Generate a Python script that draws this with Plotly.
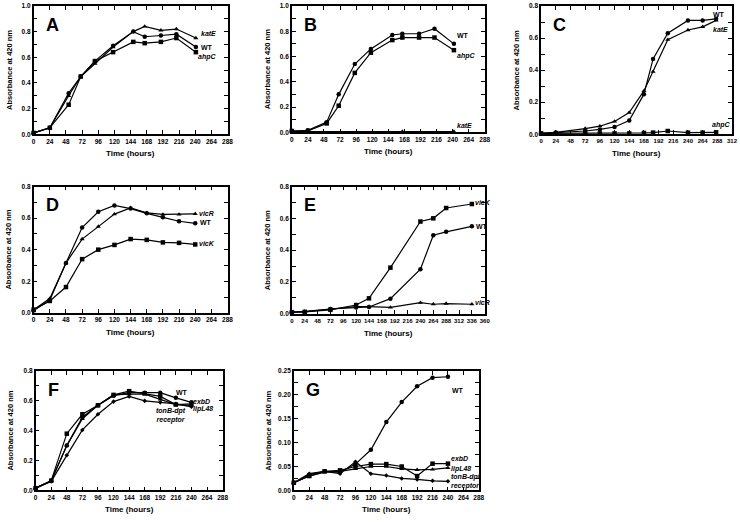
import plotly.graph_objects as go

W, H = 740, 522

# ---- data (hours, absorbance at 420 nm) ----
A_T = [0, 24, 52, 70, 91, 118, 148, 165, 189, 212, 241]
A_WT = [0.01, 0.05, 0.32, 0.45, 0.57, 0.69, 0.80, 0.76, 0.77, 0.78, 0.68]
A_KATE = [0.01, 0.05, 0.30, 0.45, 0.55, 0.68, 0.80, 0.84, 0.81, 0.82, 0.75]
A_AHPC = [0.01, 0.05, 0.23, 0.45, 0.57, 0.64, 0.72, 0.71, 0.72, 0.75, 0.64]

B_T = [0, 24, 52, 70, 94, 118, 150, 165, 190, 213, 242]
B_WT = [0.01, 0.015, 0.08, 0.30, 0.54, 0.66, 0.77, 0.78, 0.78, 0.82, 0.70]
B_AHPC = [0.01, 0.01, 0.07, 0.21, 0.47, 0.63, 0.73, 0.75, 0.75, 0.75, 0.65]
B_KATE_T = [0, 24, 165, 242]
B_KATE = [0.005, 0.005, 0.005, 0.005]

C_T = [0, 24, 72, 96, 120, 144, 168, 183, 207, 240, 264, 286]
C_WT = [0.005, 0.01, 0.02, 0.03, 0.045, 0.085, 0.25, 0.47, 0.63, 0.71, 0.71, 0.72]
C_KATE = [0.005, 0.012, 0.035, 0.05, 0.08, 0.135, 0.27, 0.39, 0.59, 0.65, 0.67, 0.71]
C_AHPC = [0.005, 0.005, 0.005, 0.005, 0.005, 0.005, 0.008, 0.01, 0.02, 0.01, 0.01, 0.012]

D_T = [0, 24, 48, 72, 96, 120, 144, 168, 192, 216, 240]
D_WT = [0.015, 0.08, 0.315, 0.54, 0.64, 0.68, 0.66, 0.63, 0.605, 0.58, 0.567]
D_VICR = [0.02, 0.09, 0.315, 0.467, 0.546, 0.625, 0.665, 0.633, 0.623, 0.623, 0.627]
D_VICK = [0.02, 0.075, 0.163, 0.34, 0.40, 0.43, 0.467, 0.462, 0.446, 0.443, 0.433]

E_T = [0, 24, 72, 120, 144, 184, 240, 264, 288, 336]
E_VICK = [0.01, 0.012, 0.025, 0.055, 0.097, 0.29, 0.58, 0.60, 0.665, 0.69]
E_WT = [0.01, 0.012, 0.03, 0.04, 0.043, 0.095, 0.28, 0.494, 0.515, 0.55]
E_VICR = [0.01, 0.015, 0.03, 0.045, 0.045, 0.04, 0.07, 0.06, 0.064, 0.06]

F_T = [0, 24, 48, 72, 96, 120, 144, 168, 192, 216, 240]
F_WT = [0.015, 0.065, 0.30, 0.49, 0.57, 0.635, 0.655, 0.655, 0.655, 0.62, 0.59]
F_EXBD = [0.015, 0.065, 0.38, 0.51, 0.57, 0.64, 0.665, 0.65, 0.63, 0.575, 0.58]
F_LIPL48 = [0.015, 0.065, 0.30, 0.48, 0.57, 0.64, 0.645, 0.645, 0.61, 0.575, 0.57]
F_TONB = [0.015, 0.06, 0.235, 0.405, 0.51, 0.595, 0.63, 0.60, 0.59, 0.58, 0.56]

G_T = [0, 24, 48, 72, 96, 120, 144, 168, 192, 216, 240]
G_WT = [0.016, 0.033, 0.04, 0.038, 0.055, 0.085, 0.143, 0.185, 0.218, 0.236, 0.238]
G_EXBD = [0.016, 0.03, 0.04, 0.042, 0.05, 0.055, 0.055, 0.05, 0.03, 0.056, 0.056]
G_LIPL48 = [0.016, 0.03, 0.038, 0.04, 0.045, 0.05, 0.05, 0.045, 0.043, 0.044, 0.047]
G_TONB = [0.016, 0.035, 0.04, 0.035, 0.06, 0.035, 0.031, 0.025, 0.023, 0.02, 0.019]

FONT = 'Arial, Liberation Sans, sans-serif'

# panel frames in pixels: left, right, top, bottom
PANELS = [
    dict(key='A', box=(32, 228, 2, 132), xmax=288, ymax=1.0, ydt=0.2, ymin=0.1, fmt='.1f'),
    dict(key='B', box=(293, 488, 2, 130), xmax=288, ymax=1.0, ydt=0.2, ymin=0.1, fmt='.1f'),
    dict(key='C', box=(545, 738, 2, 132), xmax=312, ymax=0.8, ydt=0.2, ymin=0.1, fmt='.1f'),
    dict(key='D', box=(32, 228, 185, 313), xmax=288, ymax=0.8, ydt=0.2, ymin=0.1, fmt='.1f'),
    dict(key='E', box=(293, 488, 185, 314), xmax=360, ymax=0.8, ydt=0.2, ymin=0.1, fmt='.1f'),
    dict(key='F', box=(34, 223, 372, 493), xmax=288, ymax=0.8, ydt=0.2, ymin=0.1, fmt='.1f'),
    dict(key='G', box=(295, 482, 372, 493), xmax=288, ymax=0.25, ydt=0.05, ymin=0.025, fmt='.2f'),
]

SERIES = {
    'A': [(A_T, A_WT, 'circle'), (A_T, A_KATE, 'triangle-up'), (A_T, A_AHPC, 'square')],
    'B': [(B_T, B_WT, 'circle'), (B_T, B_AHPC, 'square'), (B_KATE_T, B_KATE, 'triangle-up')],
    'C': [(C_T, C_WT, 'circle'), (C_T, C_KATE, 'triangle-up'), (C_T, C_AHPC, 'square')],
    'D': [(D_T, D_WT, 'circle'), (D_T, D_VICR, 'triangle-up'), (D_T, D_VICK, 'square')],
    'E': [(E_T, E_VICK, 'square'), (E_T, E_WT, 'circle'), (E_T, E_VICR, 'triangle-up')],
    'F': [(F_T, F_WT, 'circle'), (F_T, F_EXBD, 'square'), (F_T, F_LIPL48, 'triangle-up'),
          (F_T, F_TONB, 'diamond')],
    'G': [(G_T, G_WT, 'circle'), (G_T, G_EXBD, 'square'), (G_T, G_LIPL48, 'triangle-up'),
          (G_T, G_TONB, 'diamond')],
}

# curve labels: (x data, y data, text)
LABELS = {
    'A': [(245, 0.785, '<i>katE</i>'), (245, 0.68, 'WT'), (241, 0.60, '<i>ahpC</i>')],
    'B': [(244, 0.766, 'WT'), (244, 0.60, '<i>ahpC</i>'), (244, 0.055, '<i>katE</i>')],
    'C': [(278, 0.746, 'WT'), (277, 0.652, '<i>katE</i>'), (276, 0.057, '<i>ahpC</i>')],
    'D': [(243, 0.627, '<i>vicR</i>'), (244, 0.57, 'WT'), (243, 0.436, '<i>vicK</i>')],
    'E': [(339, 0.70, '<i>vicK</i>'), (340, 0.55, 'WT'), (339, 0.07, '<i>vicR</i>')],
    'F': [(213, 0.655, 'WT'), (239, 0.597, '<i>exbD</i>'), (239, 0.544, '<i>lipL48</i>'),
          (183, 0.50, '<i>tonB-dpt</i><br><i>receptor</i>')],
    'G': [(243, 0.209, 'WT'), (241, 0.066, '<i>exbD</i>'), (241, 0.044, '<i>lipL48</i>'),
          (241, 0.027, '<i>tonB-dpt</i>'), (241, 0.010, '<i>receptor</i>')],
}


def px_x(px):
    return px / W


def px_y(py):
    return 1 - py / H


fig = go.Figure()
annotations = []
layout = {}

for i, p in enumerate(PANELS):
    n = '' if i == 0 else str(i + 1)
    xa, ya = 'x' + n, 'y' + n
    l, r, t, b = p['box']
    tick_size = 6 if p['xmax'] > 300 else 6.5
    axis_common = dict(
        showline=True, linecolor='black', linewidth=1.5, mirror='ticks',
        ticks='inside', ticklen=4, tickwidth=1, tickcolor='black',
        showgrid=False, zeroline=False,
        tickfont=dict(family=FONT, size=6.5, color='black', weight='bold'),
    )
    layout['xaxis' + n] = dict(
        axis_common, domain=[px_x(l), px_x(r)], anchor=ya,
        range=[0, p['xmax']], tick0=0, dtick=24, tickangle=0,
        tickfont=dict(family=FONT, size=tick_size, color='black', weight='bold'),
    )
    layout['yaxis' + n] = dict(
        axis_common, domain=[px_y(b), px_y(t)], anchor=xa,
        range=[0, p['ymax']], tick0=0, dtick=p['ydt'], tickformat=p['fmt'],
        minor=dict(dtick=p['ymin'], ticks='inside', ticklen=4, tickcolor='black'),
    )
    for xs, ys, sym in SERIES[p['key']]:
        fig.add_trace(go.Scatter(
            x=xs, y=ys, xaxis=xa, yaxis=ya, mode='lines+markers',
            line=dict(color='black', width=1.2),
            marker=dict(symbol=sym, size=4.5 if sym != 'diamond' else 3.5, color='black'),
            cliponaxis=False, showlegend=False, hoverinfo='skip',
        ))
    for lx, ly, txt in LABELS[p['key']]:
        annotations.append(dict(
            x=lx, y=ly, xref=xa, yref=ya, text='<b>' + txt + '</b>',
            showarrow=False, xanchor='left', yanchor='middle',
            font=dict(family=FONT, size=7, color='black'),
        ))
    # panel letter
    annotations.append(dict(
        x=px_x(l + 10), y=px_y(t + 7), xref='paper', yref='paper',
        text='<b>' + p['key'] + '</b>', showarrow=False,
        xanchor='left', yanchor='top',
        font=dict(family=FONT, size=18, color='black'),
    ))
    # axis titles
    annotations.append(dict(
        x=px_x((l + r) / 2), y=px_y(b + 13), xref='paper', yref='paper',
        text='<b>Time (hours)</b>', showarrow=False,
        xanchor='center', yanchor='top',
        font=dict(family=FONT, size=8, color='black'),
    ))
    annotations.append(dict(
        x=px_x(l - 25), y=px_y((t + b) / 2), xref='paper', yref='paper',
        text='<b>Absorbance at 420 nm</b>', showarrow=False, textangle=-90,
        xanchor='center', yanchor='middle',
        font=dict(family=FONT, size=7.5, color='black'),
    ))

fig.update_layout(
    width=W, height=H,
    margin=dict(l=0, r=0, t=0, b=0),
    paper_bgcolor='white', plot_bgcolor='white',
    showlegend=False,
    annotations=annotations,
    **layout,
)

fig.write_html('out.html', config={'displayModeBar': False},
               post_script="document.body.style.margin='0';")
